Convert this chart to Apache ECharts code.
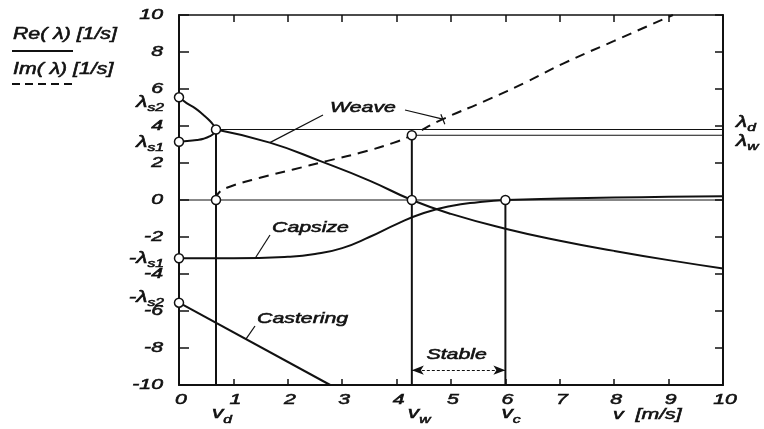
<!DOCTYPE html>
<html>
<head>
<meta charset="utf-8">
<script src="https://cdn.jsdelivr.net/npm/echarts@6/dist/echarts.min.js"></script>
<style>
  html, body { margin: 0; padding: 0; background: #fff; }
  #chart { width: 764px; height: 429px; }
</style>
</head>
<body>
<div id="chart"></div>
<script>
// Characteristic speeds [m/s]
const vD = 0.68;   // weave roots coalesce
const vW = 4.28;   // weave becomes stable
const vC = 6.0;    // capsize becomes unstable

// Characteristic eigenvalues [1/s]
const lamS1 = 3.15;
const lamS2 = 5.55;
const lamD = 3.81;
const lamW = 3.5;

// Axis ticks
const xTicks = [0, 1, 2, 3, 4, 5, 6, 7, 8, 9, 10];
const yTicks = [10, 8, 6, 4, 2, 0, -2, -4, -6, -8, -10];

// Weave, real parts: two real roots below vD
const weaveReUpper = [[0, 5.55], [0.14, 5.24], [0.3, 4.95], [0.44, 4.62], [0.57, 4.27], [0.64, 4.02], [0.68, 3.81]];
const weaveReLower = [[0, 3.15], [0.2, 3.2], [0.33, 3.24], [0.45, 3.31], [0.57, 3.45], [0.64, 3.6], [0.68, 3.81]];
// Weave, real part of the complex pair above vD
const weaveRe = [[0.68, 3.81], [1.67, 3.1], [2.6, 2.1], [3.5, 1.05], [4.28, 0], [5.0, -0.75],
                 [6.0, -1.55], [7.0, -2.2], [8.0, -2.75], [9.0, -3.25], [10, -3.7]];
// Weave, imaginary part above vD
const weaveIm = [[0.68, 0], [0.72, 0.35], [0.88, 0.66], [1.49, 1.2], [2.1, 1.65], [2.71, 2.1],
                 [3.33, 2.55], [3.94, 3.09], [4.28, 3.5], [4.8, 4.3], [5.66, 5.4],
                 [6.4, 6.4], [7.08, 7.4], [8.0, 8.6], [9.08, 10]];
// Capsize mode
const capsize = [[0, -3.15], [1, -3.15], [2, -3.07], [2.5, -2.92], [3, -2.6], [3.5, -2.0],
                 [4.0, -1.3], [4.5, -0.7], [5.0, -0.32], [5.5, -0.12], [6.0, 0], [7, 0.08],
                 [8, 0.13], [9, 0.17], [10, 0.2]];
// Castering mode
const castering = [[0, -5.55], [2.78, -10]];

// Marked points
const markedPoints = [[0, lamS2], [0, lamS1], [vD, lamD], [vD, 0], [vW, lamW], [vW, 0], [vC, 0],
                      [0, -lamS1], [0, -lamS2]];

const stableY = -9.2;

const INK = '#111';
const FONT = '"Liberation Sans", Arial, sans-serif';
const SX = 1.42;
const HEFT = 0.55;   // outline width that gives the lettering some weight

function seg(data, width, extra) {
  return Object.assign({
    type: 'line', data: data, symbol: 'none', silent: true, animation: false,
    lineStyle: { color: INK, width: width }
  }, extra || {});
}

const chart = echarts.init(document.getElementById('chart'), null, { renderer: 'canvas' });

const axisCommon = {
  type: 'value',
  axisLabel: { show: false },
  splitLine: { show: false }
};

chart.setOption({
  animation: false,
  backgroundColor: '#fff',
  grid: { left: 179, right: 41, top: 15, bottom: 44 },
  xAxis: [
    Object.assign({}, axisCommon, {
      position: 'bottom', min: 0, max: 10, interval: 1,
      axisLine: { onZero: false, lineStyle: { color: INK, width: 2 } },
      axisTick: { inside: true, length: 6, lineStyle: { color: INK, width: 1.5 } }
    }),
    Object.assign({}, axisCommon, {
      position: 'top', min: 0, max: 10, interval: 1,
      axisLine: { onZero: false, lineStyle: { color: INK, width: 1.5 } },
      axisTick: { inside: true, length: 7, lineStyle: { color: INK, width: 1.5 } }
    })
  ],
  yAxis: [
    Object.assign({}, axisCommon, {
      position: 'left', min: -10, max: 10, interval: 2,
      axisLine: { onZero: false, lineStyle: { color: INK, width: 2 } },
      axisTick: { inside: true, length: 10, lineStyle: { color: INK, width: 1.5 } }
    }),
    Object.assign({}, axisCommon, {
      position: 'right', min: -10, max: 10, interval: 2,
      axisLine: { onZero: false, lineStyle: { color: INK, width: 2 } },
      axisTick: { inside: true, length: 8, lineStyle: { color: INK, width: 1.5 } }
    })
  ],
  series: [
    seg([[0, 0], [10, 0]], 1),
    seg([[vD, lamD], [10, lamD]], 1),
    seg([[vW, lamW], [10, lamW]], 1),
    seg([[vD, lamD], [vD, -10]], 2),
    seg([[vW, lamW], [vW, -10]], 2),
    seg([[vC, 0], [vC, -10]], 2),
    seg(weaveReUpper, 2, { smooth: 0.5 }),
    seg(weaveReLower, 2, { smooth: 0.5 }),
    seg(weaveRe, 2, { smooth: 0.5 }),
    seg(weaveIm, 2, { smooth: 0.5, lineStyle: { color: INK, width: 2, type: [10, 7] } }),
    seg(capsize, 2, { smooth: 0.5 }),
    seg(castering, 2),
    {
      type: 'line', data: [], silent: true, animation: false,
      markLine: {
        silent: true, animation: false,
        symbol: ['arrow', 'arrow'], symbolSize: [7, 12],
        label: { show: false },
        lineStyle: { color: INK, width: 1, type: [3, 2] },
        data: [[{ coord: [vW, stableY] }, { coord: [vC, stableY] }]]
      }
    },
    {
      type: 'scatter', data: markedPoints, symbol: 'circle', symbolSize: 9, silent: true,
      animation: false, z: 5,
      itemStyle: { color: '#fff', borderColor: INK, borderWidth: 1.5, opacity: 1 }
    }
  ]
});

function px(v, y) { return chart.convertToPixel({ gridIndex: 0 }, [v, y]); }

function text(x, y, str, size, align, extra) {
  return Object.assign({
    type: 'text', x: x, y: y, scaleX: SX, silent: true,
    style: {
      text: str, fill: INK, stroke: INK, lineWidth: HEFT,
      fontSize: size, fontStyle: 'italic', fontFamily: FONT,
      textAlign: align || 'left', textVerticalAlign: 'middle'
    }
  }, extra || {});
}

function subText(x, y, main, sub, align) {
  return {
    type: 'text', x: x, y: y, scaleX: SX, silent: true,
    style: {
      text: '{m|' + main + '}{s|' + sub + '}',
      textAlign: align || 'left', textVerticalAlign: 'middle',
      rich: {
        m: { fill: INK, stroke: INK, lineWidth: HEFT, fontSize: 16, fontStyle: 'italic', fontFamily: FONT,
             lineHeight: 22, verticalAlign: 'middle' },
        s: { fill: INK, stroke: INK, lineWidth: HEFT, fontSize: 11, fontStyle: 'italic', fontFamily: FONT,
             verticalAlign: 'bottom' }
      }
    }
  };
}

function line(x1, y1, x2, y2, w, dash) {
  return {
    type: 'line', silent: true,
    shape: { x1: x1, y1: y1, x2: x2, y2: y2 },
    style: { stroke: INK, lineWidth: w, lineDash: dash || null }
  };
}

const g = [];

// Tick labels
xTicks.forEach(function (v) {
  const p = px(v, -10);
  g.push(text(p[0] + 2, 400, String(v), 15, 'center'));
});
yTicks.forEach(function (y) {
  const p = px(0, y);
  g.push(text(163, p[1], String(y), 15, 'right'));
});

// Speed markers under the axis
[[vD, 'd'], [vW, 'w'], [vC, 'c']].forEach(function (d) {
  const p = px(d[0], -10);
  g.push(subText(p[0] - 4, 414, 'v', d[1], 'left'));
});
g.push(text(613, 415, 'v  [m/s]', 15, 'left'));

// Eigenvalue labels on the left axis
[[lamS2, '\u03bb', 's2', 5], [lamS1, '\u03bb', 's1', 1], [-lamS1, '-\u03bb', 's1', 0], [-lamS2, '-\u03bb', 's2', -5]].forEach(function (d) {
  const p = px(0, d[0]);
  g.push(subText(164, p[1] + d[3], d[1], d[2], 'right'));
});

// Eigenvalue labels on the right
g.push(subText(736, px(10, lamD)[1] - 7, '\u03bb', 'd', 'left'));
g.push(subText(736, px(10, lamW)[1] + 6, '\u03bb', 'w', 'left'));

// Legend
g.push(text(13, 35, 'Re( \u03bb) [1/s]', 16, 'left', { scaleX: 1.33 }));
g.push(line(12, 51, 73, 51, 2));
g.push(text(13, 70, 'Im( \u03bb) [1/s]', 16, 'left', { scaleX: 1.33 }));
g.push(line(12, 84, 73, 84, 2, [8, 5]));

// Mode annotations
g.push(text(330, 108, 'Weave', 15, 'left'));
const wRe = px(1.67, 3.1), wIm = px(4.85, 4.37);
g.push(line(323, 115, wRe[0], wRe[1], 1.2));
g.push(line(405, 110, wIm[0], wIm[1], 1.2));
g.push(line(wIm[0] - 2, wIm[1] - 5, wIm[0] + 2, wIm[1] + 5, 1.2));

g.push(text(272, 228, 'Capsize', 15, 'left'));
const cP = px(1.4, -3.15);
g.push(line(270, 235, cP[0], cP[1], 1.2));

g.push(text(257, 319, 'Castering', 15, 'left'));
const cs = px(1.23, -5.55 - 1.6 * 1.23);
g.push(line(255, 326, cs[0], cs[1], 1.2));

const sA = px(vW, stableY), sB = px(vC, stableY);
g.push(text((sA[0] + sB[0]) / 2 - 2, 355, 'Stable', 15, 'center'));

chart.setOption({ graphic: g });
</script>
</body>
</html>
